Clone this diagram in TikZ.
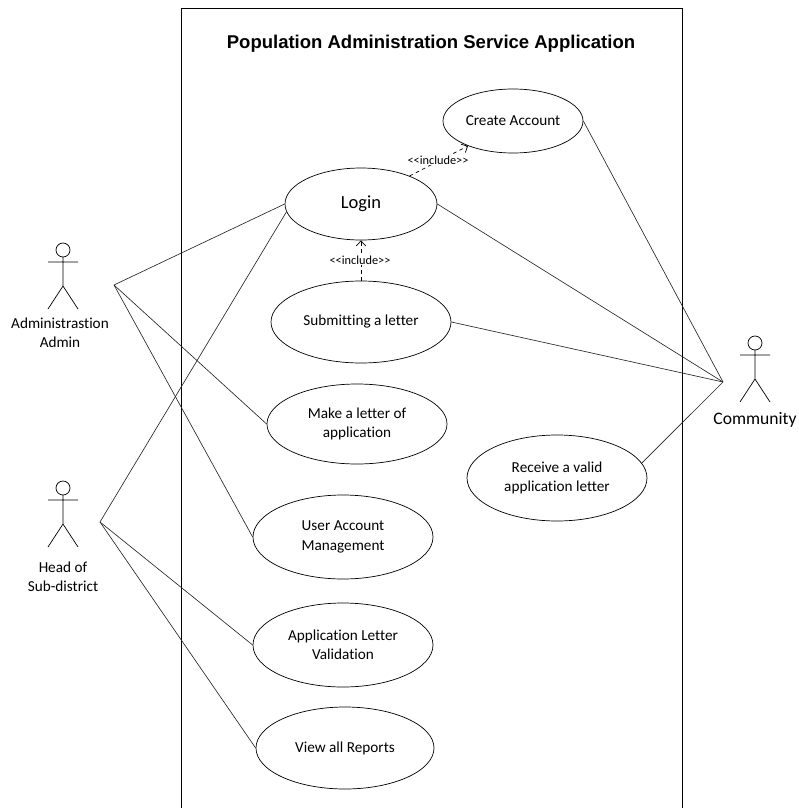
\documentclass[tikz,border=0pt]{standalone}
\usepackage{fontspec}
\setmainfont{Carlito}[Ligatures=NoCommon]
\newfontfamily\titlefont{Liberation Sans}
\usetikzlibrary{shapes.geometric,arrows.meta}
\def\stickman[#1](#2){\draw[#1,shift={(#2)}] (0,0) circle (7) (0,7) -- (0,36) (-15,12) -- (15,12) (-15,59) -- (0,36) -- (15,59);}

\begin{document}
\begin{tikzpicture}[x=0.03cm, y=-0.03cm,
	usecase/.style={draw, ellipse, inner sep=0pt, align=center, line width=0.6pt, font=\fontsize{13}{16.5}\selectfont},
	assoc/.style={line width=0.55pt, black!85},
	incl/.style={dashed, line width=0.6pt, -{Straight Barb[length=1.5mm, width=2.8mm]}},
	incltext/.style={fill=white, inner sep=1pt, font=\fontsize{10.5}{12}\selectfont},
	actorname/.style={align=center, font=\fontsize{13}{16}\selectfont}]
			%%%%% START %%%%%
			\useasboundingbox (0, 0) rectangle (798, 808);
			
			% system boundary, open at the bottom
			\draw[line width=0.6pt] (181, 808) -- (181, 8) -- (682, 8) -- (682, 808);
			\node[font=\titlefont\bfseries\fontsize{15.8}{18}\selectfont] (title) at (431, 44) {Population Administration Service Application};
			
			% use cases
			\node[usecase, minimum width=4.2cm, minimum height=1.92cm] (create) at (513, 121) {Create Account};
			\node[usecase, minimum width=4.56cm, minimum height=2.16cm, font=\fontsize{15.8}{18}\selectfont] (login) at (361, 204) {Login};
			\node[usecase, minimum width=5.4cm, minimum height=2.46cm] (submit) at (361, 322) {Submitting a letter};
			\node[usecase, minimum width=5.4cm, minimum height=2.4cm] (makeletter) at (357, 424) {Make a letter of\\application};
			\node[usecase, minimum width=5.4cm, minimum height=2.52cm] (useraccount) at (343, 537) {User Account\\Management};
			\node[usecase, minimum width=5.4cm, minimum height=2.52cm] (validation) at (343, 645) {Application Letter\\Validation};
			\node[usecase, minimum width=5.34cm, minimum height=2.46cm] (reports) at (345, 748) {View all Reports};
			\node[usecase, minimum width=5.4cm, minimum height=2.58cm] (receive) at (557, 478) {Receive a valid\\application letter};
			
			% actors
			\stickman[line width=0.6pt](63, 250)
			\node[actorname] (adminname) at (60, 333) {Administrastion\\Admin};
			\coordinate (admin) at (114, 285);
			
			\stickman[line width=0.6pt](63, 488)
			\node[actorname] (headname) at (63, 577) {Head of\\Sub-district};
			\coordinate (head) at (100, 522);
			
			\stickman[line width=0.6pt](755, 343)
			\node[actorname, font=\fontsize{15}{17}\selectfont] (communityname) at (755, 420) {Community};
			\coordinate (community) at (723, 382);
			
			% associations
			\draw[assoc] (admin) -- (login.west);
			\draw[assoc] (admin) -- (makeletter.west);
			\draw[assoc] (admin) -- (useraccount.west);
			
			\draw[assoc] (head) -- (login.186);
			\draw[assoc] (head) -- (validation.west);
			\draw[assoc] (head) -- (reports.west);
			
			\draw[assoc] (community) -- (create.east);
			\draw[assoc] (community) -- (login.east);
			\draw[assoc] (community) -- (submit.east);
			\draw[assoc] (community) -- (receive.10);
			
			% includes
			\draw[incl] (submit.north) -- (login.south);
			\node[incltext] (inclsubmit) at (360, 260) {{<}{<}include{>}{>}};
			\draw[incl] (login.30) -- (create.209);
			\node[incltext] (incllogin) at (438, 160) {{<}{<}include{>}{>}};
			
			%%%%% END %%%%%
\end{tikzpicture}
\end{document}
